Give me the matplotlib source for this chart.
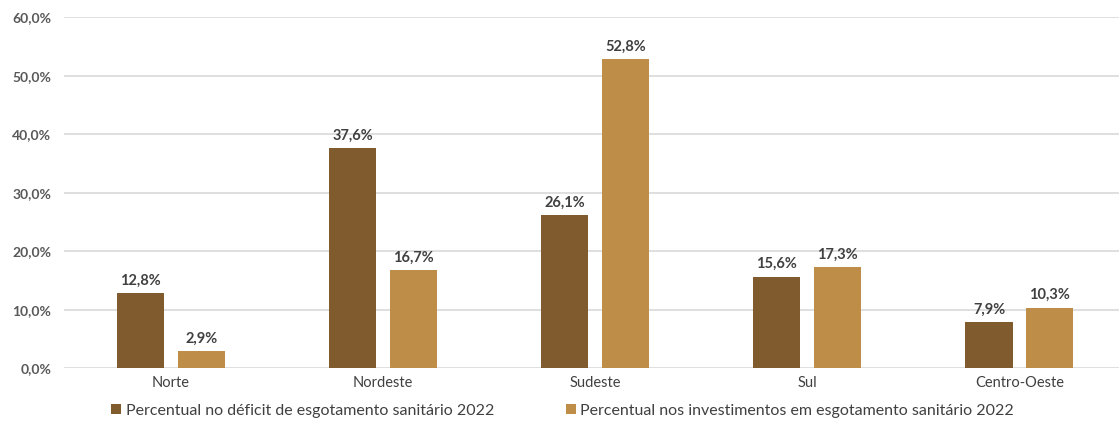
import numpy as np
import matplotlib
matplotlib.use('Agg')
import matplotlib.pyplot as plt

regioes = ['Norte', 'Nordeste', 'Sudeste', 'Sul', 'Centro-Oeste']
deficit = [12.8, 37.6, 26.1, 15.6, 7.9]
investimentos = [2.9, 16.7, 52.8, 17.3, 10.3]
nome_deficit = 'Percentual no déficit de esgotamento sanitário 2022'
nome_invest = 'Percentual nos investimentos em esgotamento sanitário 2022'

cor_escura = '#7F5B2E'
cor_clara = '#BE8D47'

plt.rcParams['font.family'] = ['Lato', 'DejaVu Sans']

fig = plt.figure(figsize=(11.19, 4.28), dpi=100)
ax = fig.add_axes([0.057, 0.140, 0.943, 0.820])

x = np.arange(len(regioes))
largura = 0.222
desloc = 0.143

b1 = ax.bar(x - desloc, deficit, largura, color=cor_escura, label=nome_deficit, zorder=3)
b2 = ax.bar(x + desloc, investimentos, largura, color=cor_clara, label=nome_invest, zorder=3)

def fmt(v):
    return f'{v:.1f}%'.replace('.', ',')

for barras, vals in ((b1, deficit), (b2, investimentos)):
    for b, v in zip(barras, vals):
        ax.annotate(fmt(v), (b.get_x() + b.get_width() / 2, v),
                    xytext=(0, 4), textcoords='offset points',
                    ha='center', va='bottom', fontsize=10.5, fontweight='bold',
                    color='#404040')

ax.set_xlim(-0.506, 4.47)
ax.set_ylim(0, 60)
ax.set_yticks(np.arange(0, 61, 10))
ax.set_yticklabels([fmt(v) for v in np.arange(0, 61, 10)],
                   fontsize=10, fontweight='bold', color='#595959')
ax.set_xticks(x)
ax.set_xticklabels(regioes, fontsize=10.5, color='#404040')
ax.tick_params(axis='both', length=0)
ax.tick_params(axis='y', pad=9)
ax.tick_params(axis='x', pad=6)
ax.grid(axis='y', color='#D9D9D9', linewidth=1.2, zorder=0)
for s in ax.spines.values():
    s.set_visible(False)

fig.legend(handles=[b1, b2], loc='center', bbox_to_anchor=(0.503, 0.040), ncol=2,
           frameon=False, fontsize=11.5, handlelength=0.6, handleheight=0.6,
           handletextpad=0.3, columnspacing=4.5, labelcolor='#404040')

fig.savefig('out.png', dpi=100)
